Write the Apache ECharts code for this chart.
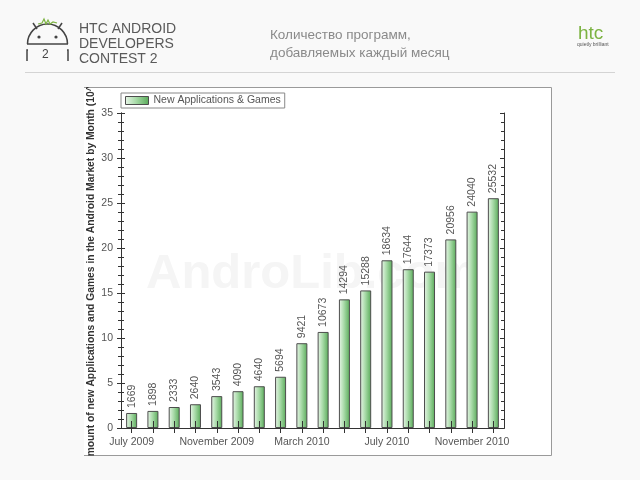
<!DOCTYPE html>
<html>
<head>
<meta charset="utf-8">
<script src="https://cdn.jsdelivr.net/npm/echarts@6/dist/echarts.min.js"></script>
<style>html,body{margin:0;padding:0;background:#f9f9f9;}#c{width:640px;height:480px;}</style>
</head>
<body>
<div id="c"></div>
<script>
const months = ["July 2009","August 2009","September 2009","October 2009","November 2009","December 2009","January 2010","February 2010","March 2010","April 2010","May 2010","June 2010","July 2010","August 2010","September 2010","October 2010","November 2010","December 2010"];
const counts = [1669,1898,2333,2640,3543,4090,4640,5694,9421,10673,14294,15288,18634,17644,17373,20956,24040,25532];
const seriesName = "New Applications & Games";
const yMin = 0, yMax = 35, yStep = 5;
const yTitle = "Amount of new Applications and Games in the Android Market by Month (10^3)";
const headerLines = ["HTC ANDROID", "DEVELOPERS", "CONTEST 2"];
const titleLines = ["Количество программ,", "добавляемых каждый месяц"];

const chart = echarts.init(document.getElementById('c'), null, {renderer: 'canvas'});
const F = 'Liberation Sans, Arial, sans-serif';
const axisLineStyle = {color: '#333', width: 1};
const barGrad = new echarts.graphic.LinearGradient(0, 0, 1, 0, [
  {offset: 0, color: '#eaf6ea'},
  {offset: 0.45, color: '#a9dba9'},
  {offset: 1, color: '#58aa58'}
]);

const graphics = [
  {type: 'rect', z: -5, shape: {x: 84, y: 87, width: 468, height: 368}, style: {fill: '#ffffff'}},
  {type: 'polyline', z: -4, shape: {points: [[84, 87.5], [551.5, 87.5], [551.5, 455.5], [84, 455.5]]}, style: {stroke: '#9a9a9a', lineWidth: 1, fill: null}},
  {type: 'text', z: 1, x: 146, y: 250, style: {text: 'AndroLib.com', fontSize: 49, fontWeight: 'bold', fontFamily: F, fill: '#f5f5f5'}},
  {type: 'line', z: 1, shape: {x1: 25, y1: 72.5, x2: 615, y2: 72.5}, style: {stroke: '#d4d4d4', lineWidth: 1}},
  {type: 'text', z: 5, x: 91, y: 270, rotation: Math.PI / 2, style: {text: yTitle, fontSize: 10.3, fontWeight: 'bold', fontFamily: F, fill: '#333', align: 'center', verticalAlign: 'middle'}},
  {type: 'rect', z: 6, shape: {x: 80, y: 74, width: 20, height: 13}, style: {fill: '#f9f9f9'}},
  {type: 'rect', z: 6, shape: {x: 80, y: 456, width: 20, height: 16}, style: {fill: '#f9f9f9'}},
  {type: 'text', x: 79, y: 22, style: {text: headerLines.join('\n'), fontSize: 14, lineHeight: 15, fontFamily: F, fill: '#5a5a5a'}},
  {type: 'text', x: 270, y: 26, style: {text: titleLines.join('\n'), fontSize: 13.5, lineHeight: 18, fontFamily: F, fill: '#8a8a8a'}},
  {type: 'text', x: 578, y: 24, style: {text: 'htc', fontSize: 19, fontFamily: F, fill: '#7cb342', letterSpacing: 2}},
  {type: 'text', x: 577, y: 42, style: {text: 'quietly brilliant', fontSize: 5, fontFamily: F, fill: '#555'}},
  {type: 'arc', shape: {cx: 47.5, cy: 44, r: 20, startAngle: Math.PI, endAngle: 2 * Math.PI}, style: {stroke: '#444', lineWidth: 1.5, fill: null}},
  {type: 'line', shape: {x1: 27, y1: 44, x2: 68, y2: 44}, style: {stroke: '#444', lineWidth: 1.5}},
  {type: 'line', shape: {x1: 33, y1: 23, x2: 37, y2: 29}, style: {stroke: '#444', lineWidth: 1.5}},
  {type: 'line', shape: {x1: 62, y1: 23, x2: 58, y2: 29}, style: {stroke: '#444', lineWidth: 1.5}},
  {type: 'circle', shape: {cx: 39, cy: 37, r: 1.6}, style: {fill: '#444'}},
  {type: 'circle', shape: {cx: 56, cy: 37, r: 1.6}, style: {fill: '#444'}},
  {type: 'polyline', shape: {points: [[38, 24], [42, 23], [44, 19], [46, 24], [48, 20], [50, 24], [53, 22], [57, 23]]}, style: {stroke: '#7cb342', lineWidth: 1.2, fill: null}},
  {type: 'polyline', shape: {points: [[28, 50], [27, 50], [27, 61]]}, style: {stroke: '#444', lineWidth: 1.5, fill: null}},
  {type: 'polyline', shape: {points: [[67, 50], [68, 50], [68, 61]]}, style: {stroke: '#444', lineWidth: 1.5, fill: null}},
  {type: 'text', x: 42, y: 49, style: {text: '2', fontSize: 12, fontFamily: F, fill: '#444'}}
];

const baseCat = {type: 'category', data: months, boundaryGap: true, axisLine: {lineStyle: axisLineStyle}, axisLabel: {show: false}, splitLine: {show: false}};
const baseVal = {type: 'value', min: yMin, max: yMax, interval: yStep, axisLine: {show: true, lineStyle: axisLineStyle}, axisLabel: {show: false}, splitLine: {show: false}};

chart.setOption({
  backgroundColor: '#f9f9f9',
  animation: false,
  graphic: graphics,
  grid: {left: 121, right: 136, top: 113, bottom: 52, containLabel: false},
  legend: {
    data: [{name: seriesName, icon: 'rect'}], left: 121, top: 93, padding: [2, 4, 2, 4],
    borderColor: '#888', borderWidth: 1, itemWidth: 23, itemHeight: 8, itemGap: 6,
    itemStyle: {borderColor: '#4d4d4d', borderWidth: 1},
    textStyle: {fontSize: 10.5, fontFamily: F, color: '#555'}, backgroundColor: '#fff'
  },
  xAxis: [
    Object.assign({}, baseCat, {position: 'bottom', z: 3,
      axisTick: {show: true, inside: true, length: 7, alignWithLabel: true, interval: 0, lineStyle: {color: '#333'}},
      axisLabel: {show: true, interval: 3, margin: 9, fontSize: 10.5, fontFamily: F, color: '#555'}}),
    Object.assign({}, baseCat, {position: 'bottom',
      axisTick: {show: true, inside: false, length: 5, alignWithLabel: true, interval: 0, lineStyle: {color: '#333'}}}),
    Object.assign({}, baseCat, {position: 'top',
      axisTick: {show: true, inside: true, length: 5, alignWithLabel: true, interval: 0, lineStyle: {color: '#333'}}})
  ],
  yAxis: [
    Object.assign({}, baseVal, {position: 'left',
      axisTick: {show: true, inside: true, length: 4, lineStyle: {color: '#333'}},
      minorTick: {show: true, splitNumber: 5, length: 3, lineStyle: {color: '#333'}},
      axisLabel: {show: true, margin: 8, fontSize: 10.5, fontFamily: F, color: '#555'}}),
    Object.assign({}, baseVal, {position: 'left',
      axisTick: {show: true, inside: false, length: 4, lineStyle: {color: '#333'}},
      minorTick: {show: true, splitNumber: 5, length: 3, lineStyle: {color: '#333'}}}),
    Object.assign({}, baseVal, {position: 'right',
      axisTick: {show: true, inside: true, length: 4, lineStyle: {color: '#333'}},
      minorTick: {show: true, splitNumber: 5, length: 3, lineStyle: {color: '#333'}}})
  ],
  series: [{
    name: seriesName, type: 'bar', xAxisIndex: 0, yAxisIndex: 0,
    data: counts.map(c => c / 1000),
    barWidth: 11,
    itemStyle: {color: barGrad, borderColor: '#4d4d4d', borderWidth: 1},
    label: {
      show: true, position: 'top', rotate: 90, align: 'left', verticalAlign: 'middle', distance: 5,
      fontSize: 10.5, fontFamily: F, color: '#555',
      formatter: p => String(counts[p.dataIndex])
    }
  }]
});
</script>
</body>
</html>
